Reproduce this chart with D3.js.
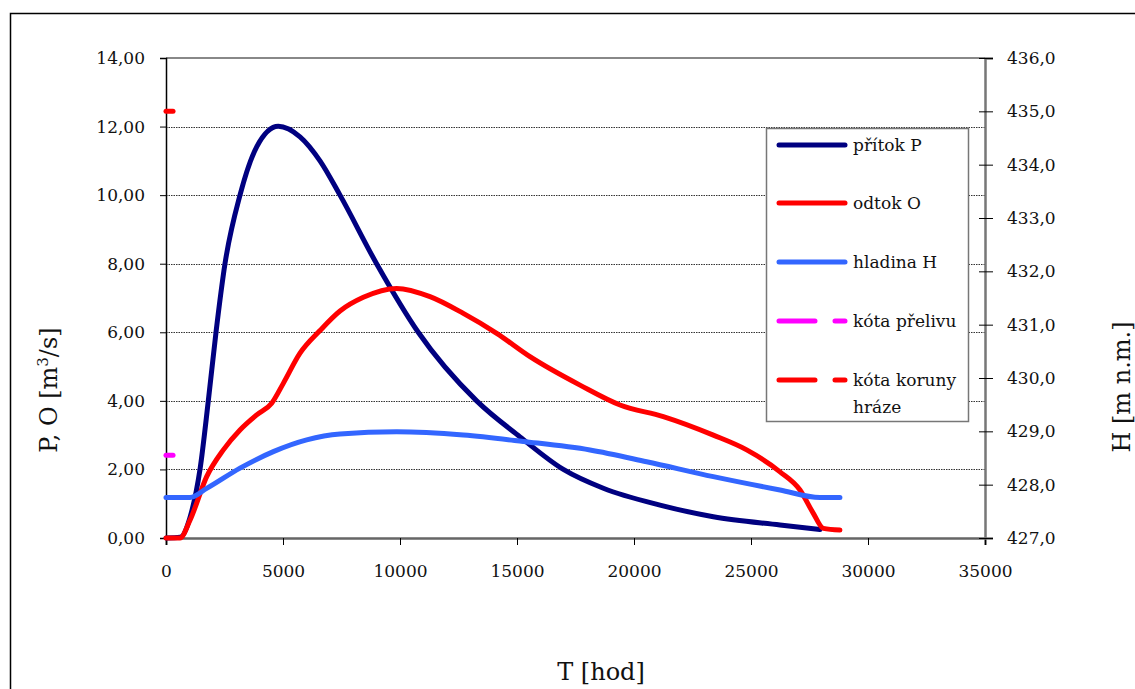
<!DOCTYPE html>
<html>
<head>
<meta charset="utf-8">
<script src="https://cdn.jsdelivr.net/npm/d3@7"></script>
<style>
  body { margin: 0; background: #fff; }
  svg { display: block; font-family: "DejaVu Serif", serif; }
</style>
</head>
<body>
<svg id="chart"></svg>
<script>
// přítok P [m3/s]
const timeP = [0, 600, 1026, 1453, 1808, 2137, 2521, 3162, 3876, 4800, 5727, 6581, 7436, 9000, 10780, 13276, 15128, 16980, 18690, 21111, 23390, 26240, 27948];
const inflowP = [0, 0.02, 0.6, 2.0, 4.0, 6.0, 8.0, 10.0, 11.41, 12.01, 11.7, 11.0, 10.0, 8.0, 6.0, 4.0, 2.95, 2.0, 1.45, 0.96, 0.62, 0.38, 0.25];

// odtok O [m3/s]
const timeO = [0, 600, 1026, 1738, 2450, 3162, 3876, 4517, 5013, 5727, 6581, 7436, 8433, 9860, 11282, 12706, 14133, 15555, 17692, 19402, 21252, 23390, 24817, 26240, 27094, 27664, 28091, 28800];
const outflowO = [0, 0, 0.52, 1.79, 2.57, 3.15, 3.59, 3.93, 4.51, 5.39, 6.05, 6.62, 7.02, 7.28, 7.04, 6.55, 5.97, 5.29, 4.46, 3.88, 3.54, 3.00, 2.57, 1.93, 1.40, 0.72, 0.28, 0.23];

// hladina H [m n.m.]
const timeH = [0, 1026, 1738, 3162, 4587, 6012, 7436, 9860, 12706, 15270, 18120, 20540, 23390, 26240, 27948, 28800];
const levelH = [427.76, 427.76, 427.93, 428.31, 428.62, 428.84, 428.95, 428.99, 428.93, 428.81, 428.65, 428.43, 428.15, 427.90, 427.76, 427.76];

// kóty [m n.m.]
const spillwayTime = [0, 300];
const spillwayLevel = [428.55, 428.55];
const crestTime = [0, 300];
const crestLevel = [435.0, 435.0];

const xTicks = [0, 5000, 10000, 15000, 20000, 25000, 30000, 35000];
const leftTicks = [0, 2, 4, 6, 8, 10, 12, 14];
const rightTicks = [427, 428, 429, 430, 431, 432, 433, 434, 435, 436];

const legendItems = [
  { label: ["přítok P"], color: "#000080", dashed: false },
  { label: ["odtok O"], color: "#ff0000", dashed: false },
  { label: ["hladina H"], color: "#3366ff", dashed: false },
  { label: ["kóta přelivu"], color: "#ff00ff", dashed: true },
  { label: ["kóta koruny", "hráze"], color: "#ff0000", dashed: true }
];

const width = 1135;
const height = 689;
const plot = { left: 166, right: 985, top: 58, bottom: 538 };

const svg = d3.select("#chart").attr("width", width).attr("height", height);

// outer frame
svg.append("rect")
  .attr("x", 10.5).attr("y", 13.5)
  .attr("width", 1300).attr("height", 900)
  .attr("fill", "none").attr("stroke", "#000").attr("stroke-width", 1.5);

const x = d3.scaleLinear([0, 35000], [plot.left, plot.right]);
const yL = d3.scaleLinear([0, 14], [plot.bottom, plot.top]);
const yR = d3.scaleLinear([427, 436], [plot.bottom, plot.top]);

// gridlines
svg.append("g")
  .selectAll("line")
  .data(leftTicks.filter(d => d > 0 && d < 14))
  .join("line")
  .attr("x1", plot.left).attr("x2", plot.right)
  .attr("y1", d => Math.round(yL(d)) + 0.5).attr("y2", d => Math.round(yL(d)) + 0.5)
  .attr("stroke", "#333").attr("stroke-width", 1).attr("stroke-dasharray", "1.5,1");

// top border
svg.append("line")
  .attr("x1", plot.left).attr("x2", plot.right)
  .attr("y1", plot.top).attr("y2", plot.top)
  .attr("stroke", "#888").attr("stroke-width", 2);

const comma2 = d => d3.format(".2f")(d).replace(".", ",");
const comma1 = d => d3.format(".1f")(d).replace(".", ",");

// x axis
const gx = svg.append("g")
  .attr("transform", `translate(0, ${plot.bottom})`)
  .call(d3.axisBottom(x).tickValues(xTicks).tickSize(7).tickPadding(20).tickFormat(d3.format("d")));
gx.select(".domain").attr("stroke", "#666").attr("stroke-width", 2.5);
gx.selectAll(".tick line").attr("stroke", "#000");

// left axis
const gl = svg.append("g")
  .attr("transform", `translate(${plot.left}, 0)`)
  .call(d3.axisLeft(yL).tickValues(leftTicks).tickSize(6).tickPadding(15).tickFormat(comma2));
gl.select(".domain").attr("stroke", "#000").attr("stroke-width", 1.5);

// right axis
const gr = svg.append("g")
  .attr("transform", `translate(${plot.right}, 0)`)
  .call(d3.axisRight(yR).tickValues(rightTicks).tickSize(8).tickPadding(14).tickFormat(comma1));
gr.select(".domain").attr("stroke", "#777").attr("stroke-width", 2.5);
gr.selectAll(".tick line").attr("x1", -6).attr("stroke", "#000");

svg.selectAll(".tick text")
  .style("font-family", "DejaVu Serif")
  .style("font-size", "17px")
  .attr("fill", "#111");

// series
const curve = d3.curveMonotoneX;
const lineL = d3.line().x(d => x(d[0])).y(d => yL(d[1])).curve(curve);
const lineR = d3.line().x(d => x(d[0])).y(d => yR(d[1])).curve(curve);

const series = [
  { pts: d3.zip(timeP, inflowP), gen: lineL, color: "#000080", dash: null },
  { pts: d3.zip(timeO, outflowO), gen: lineL, color: "#ff0000", dash: null },
  { pts: d3.zip(timeH, levelH), gen: lineR, color: "#3366ff", dash: null },
  { pts: d3.zip(spillwayTime, spillwayLevel), gen: lineR, color: "#ff00ff", dash: "36,20" },
  { pts: d3.zip(crestTime, crestLevel), gen: lineR, color: "#ff0000", dash: "36,20" }
];

svg.append("g")
  .selectAll("path")
  .data(series)
  .join("path")
  .attr("d", d => d.gen(d.pts))
  .attr("fill", "none")
  .attr("stroke", d => d.color)
  .attr("stroke-width", 5)
  .attr("stroke-linecap", "round")
  .attr("stroke-linejoin", "round")
  .attr("stroke-dasharray", d => d.dash);

// legend
const legend = svg.append("g");
legend.append("rect")
  .attr("x", 766.5).attr("y", 128.5)
  .attr("width", 202).attr("height", 293)
  .attr("fill", "#fff").attr("stroke", "#777").attr("stroke-width", 1.5);

const rowY = [145, 203, 262, 321, 380];
const items = legend.selectAll("g.item")
  .data(legendItems)
  .join("g")
  .attr("class", "item")
  .attr("transform", (d, i) => `translate(0, ${rowY[i]})`);

items.append("line")
  .attr("x1", 779).attr("x2", 845)
  .attr("y1", 0).attr("y2", 0)
  .attr("stroke", d => d.color)
  .attr("stroke-width", 5)
  .attr("stroke-linecap", "round")
  .attr("stroke-dasharray", d => d.dashed ? "36,20" : null);

items.append("text")
  .attr("x", 853)
  .attr("y", 6)
  .style("font-size", "17px")
  .attr("fill", "#111")
  .selectAll("tspan")
  .data(d => d.label)
  .join("tspan")
  .attr("x", 853)
  .attr("dy", (d, i) => i === 0 ? 0 : 27)
  .text(d => d);

// axis titles
const leftTitle = svg.append("text")
  .attr("transform", "translate(57, 390) rotate(-90)")
  .attr("text-anchor", "middle")
  .style("font-size", "24px")
  .attr("fill", "#111");
leftTitle.append("tspan").text("P, O [m");
leftTitle.append("tspan").attr("dy", -9).style("font-size", "15px").text("3");
leftTitle.append("tspan").attr("dy", 9).text("/s]");

svg.append("text")
  .attr("transform", "translate(1130, 387) rotate(-90)")
  .attr("text-anchor", "middle")
  .style("font-size", "24px")
  .attr("fill", "#111")
  .text("H [m n.m.]");

svg.append("text")
  .attr("x", 601).attr("y", 680)
  .attr("text-anchor", "middle")
  .style("font-size", "24px")
  .attr("fill", "#111")
  .text("T [hod]");
</script>
</body>
</html>
